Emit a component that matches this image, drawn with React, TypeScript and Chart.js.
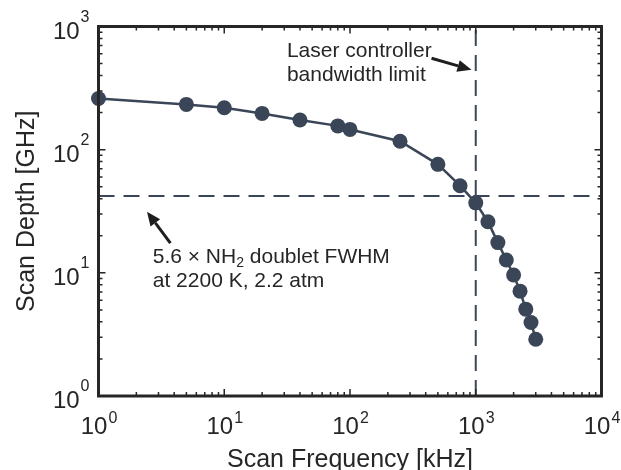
import React, { useEffect, useRef } from "react";
import { Chart, registerables } from "chart.js";

Chart.register(...registerables);

// ---- data ----
const scanFrequency = [1, 5, 10, 20, 40, 80, 100, 250, 500, 750, 1000, 1250, 1500, 1750, 2000, 2250, 2500, 2750, 3000];
const scanDepth = [260, 233, 219, 197, 174, 156, 146, 117, 76, 51, 37, 26, 17.6, 12.7, 9.6, 7.1, 5.07, 3.95, 2.89];
const fwhmThreshold = 42; // GHz
const bandwidthLimit = 1000; // kHz
const xDecades = [1, 10, 100, 1000, 10000];
const xExponents = ["0", "1", "2", "3", "4"];
const yDecades = [1, 10, 100, 1000];
const yExponents = ["0", "1", "2", "3"];
const xTitle = "Scan Frequency [kHz]";
const yTitle = "Scan Depth [GHz]";
const laserLines = ["Laser controller", "bandwidth limit"];
const fwhmLine1 = ["5.6 × NH", "2", " doublet FWHM"];
const fwhmLine2 = "at 2200 K, 2.2 atm";

// ---- styles ----
const INK = "#262626";
const SERIES = "#3a4657";
const ARROW = "#1e1e1e";
const FONT = "'Liberation Sans', Arial, Helvetica, sans-serif";

function minors(decades: number[]) {
  const out: number[] = [];
  for (let i = 0; i < decades.length - 1; i++) {
    for (let k = 2; k <= 9; k++) out.push(decades[i] * k);
  }
  return out;
}

function arrow(ctx: CanvasRenderingContext2D, x0: number, y0: number, x1: number, y1: number) {
  const ang = Math.atan2(y1 - y0, x1 - x0);
  const headLen = 14;
  const headW = 6;
  const bx = x1 - headLen * Math.cos(ang);
  const by = y1 - headLen * Math.sin(ang);
  ctx.save();
  ctx.strokeStyle = ARROW;
  ctx.fillStyle = ARROW;
  ctx.lineWidth = 3;
  ctx.beginPath();
  ctx.moveTo(x0, y0);
  ctx.lineTo(bx, by);
  ctx.stroke();
  ctx.beginPath();
  ctx.moveTo(x1, y1);
  ctx.lineTo(bx + headW * Math.sin(ang), by - headW * Math.cos(ang));
  ctx.lineTo(bx - headW * Math.sin(ang), by + headW * Math.cos(ang));
  ctx.closePath();
  ctx.fill();
  ctx.restore();
}

const framePlugin = {
  id: "matlabFrame",
  afterDatasetsDraw(chart: any) {
    const ctx: CanvasRenderingContext2D = chart.ctx;
    const { left, right, top, bottom } = chart.chartArea;
    const xs = chart.scales.x;
    const ys = chart.scales.y;
    ctx.save();
    ctx.strokeStyle = INK;
    ctx.lineWidth = 1.5;
    ctx.beginPath();
    const majorLen = 7;
    const minorLen = 4;
    xDecades.forEach((v) => {
      const p = xs.getPixelForValue(v);
      ctx.moveTo(p, bottom); ctx.lineTo(p, bottom - majorLen);
      ctx.moveTo(p, top); ctx.lineTo(p, top + majorLen);
    });
    minors(xDecades).forEach((v) => {
      const p = xs.getPixelForValue(v);
      ctx.moveTo(p, bottom); ctx.lineTo(p, bottom - minorLen);
      ctx.moveTo(p, top); ctx.lineTo(p, top + minorLen);
    });
    yDecades.forEach((v) => {
      const p = ys.getPixelForValue(v);
      ctx.moveTo(left, p); ctx.lineTo(left + majorLen, p);
      ctx.moveTo(right, p); ctx.lineTo(right - majorLen, p);
    });
    minors(yDecades).forEach((v) => {
      const p = ys.getPixelForValue(v);
      ctx.moveTo(left, p); ctx.lineTo(left + minorLen, p);
      ctx.moveTo(right, p); ctx.lineTo(right - minorLen, p);
    });
    ctx.stroke();
    ctx.lineWidth = 3;
    ctx.strokeRect(left, top, right - left, bottom - top);

    // tick labels
    ctx.fillStyle = INK;
    ctx.textBaseline = "alphabetic";
    const baseFont = `24px ${FONT}`;
    const supFont = `16px ${FONT}`;
    xDecades.forEach((v, i) => {
      const p = xs.getPixelForValue(v);
      ctx.font = baseFont;
      const w1 = ctx.measureText("10").width;
      ctx.font = supFont;
      const w2 = ctx.measureText(xExponents[i]).width;
      const x0 = p - (w1 + w2) / 2;
      ctx.font = baseFont;
      ctx.textAlign = "left";
      ctx.fillText("10", x0, bottom + 38);
      ctx.font = supFont;
      ctx.fillText(xExponents[i], x0 + w1 + 1, bottom + 27);
    });
    yDecades.forEach((v, i) => {
      const p = ys.getPixelForValue(v);
      ctx.font = supFont;
      ctx.textAlign = "right";
      const supX = left - 9;
      const w2 = ctx.measureText(yExponents[i]).width;
      ctx.fillText(yExponents[i], supX, p - 5);
      ctx.font = baseFont;
      ctx.fillText("10", supX - w2 - 1, p + 12);
    });

    // axis titles
    ctx.font = `25px ${FONT}`;
    ctx.textAlign = "center";
    ctx.fillText(xTitle, (left + right) / 2, 467);
    ctx.save();
    ctx.translate(34, (top + bottom) / 2);
    ctx.rotate(-Math.PI / 2);
    ctx.fillText(yTitle, 0, 0);
    ctx.restore();

    // annotations (anchored in data coordinates)
    ctx.font = `21px ${FONT}`;
    ctx.textAlign = "left";
    const lx = xs.getPixelForValue(31.5);
    ctx.fillText(laserLines[0], lx, ys.getPixelForValue(565));
    ctx.fillText(laserLines[1], lx, ys.getPixelForValue(360));
    arrow(ctx, xs.getPixelForValue(445), ys.getPixelForValue(553), xs.getPixelForValue(925), ys.getPixelForValue(445));

    const fx = xs.getPixelForValue(2.7);
    const fy1 = ys.getPixelForValue(12.0);
    let cx = fx;
    ctx.font = `21px ${FONT}`;
    ctx.fillText(fwhmLine1[0], cx, fy1);
    cx += ctx.measureText(fwhmLine1[0]).width;
    ctx.font = `14px ${FONT}`;
    ctx.fillText(fwhmLine1[1], cx, fy1 + 4);
    cx += ctx.measureText(fwhmLine1[1]).width;
    ctx.font = `21px ${FONT}`;
    ctx.fillText(fwhmLine1[2], cx, fy1);
    ctx.fillText(fwhmLine2, fx, ys.getPixelForValue(7.7));
    arrow(ctx, xs.getPixelForValue(3.73), ys.getPixelForValue(17.4), xs.getPixelForValue(2.43), ys.getPixelForValue(31.4));
    ctx.restore();
  },
};

export default function App() {
  const ref = useRef<HTMLCanvasElement | null>(null);
  useEffect(() => {
    if (!ref.current) return;
    const chart = new Chart(ref.current, {
      type: "scatter",
      data: {
        datasets: [
          {
            data: scanFrequency.map((f, i) => ({ x: f, y: scanDepth[i] })),
            showLine: true,
            borderColor: SERIES,
            backgroundColor: SERIES,
            pointBackgroundColor: SERIES,
            pointBorderColor: SERIES,
            pointRadius: 7.5,
            pointBorderWidth: 0,
            borderWidth: 2.5,
            clip: false,
            order: 0,
          },
          {
            data: [{ x: 1, y: fwhmThreshold }, { x: 10000, y: fwhmThreshold }],
            showLine: true,
            borderColor: SERIES,
            borderWidth: 2,
            borderDash: [16, 9],
            pointRadius: 0,
            order: 1,
          },
          {
            data: [{ x: bandwidthLimit, y: 1 }, { x: bandwidthLimit, y: 1000 }],
            showLine: true,
            borderColor: SERIES,
            borderWidth: 2,
            borderDash: [16, 9],
            pointRadius: 0,
            order: 1,
          },
        ],
      },
      options: {
        animation: false,
        responsive: false,
        devicePixelRatio: 1,
        layout: { padding: { left: 98.5, right: 19.5, top: 26.5, bottom: 74 } },
        plugins: { legend: { display: false }, tooltip: { enabled: false } },
        scales: {
          x: {
            type: "logarithmic",
            min: 1,
            max: 10000,
            ticks: { display: false },
            grid: { display: false, drawTicks: false },
            border: { display: false },
            title: { display: false },
          },
          y: {
            type: "logarithmic",
            min: 1,
            max: 1000,
            ticks: { display: false },
            grid: { display: false, drawTicks: false },
            border: { display: false },
            title: { display: false },
          },
        },
      },
      plugins: [framePlugin],
    });
    return () => chart.destroy();
  }, []);
  return (
    <div style={{ position: "fixed", left: 0, top: 0, width: 621, height: 470, background: "#fff" }}>
      <canvas ref={ref} width={621} height={470} style={{ width: 621, height: 470, display: "block" }} />
    </div>
  );
}
